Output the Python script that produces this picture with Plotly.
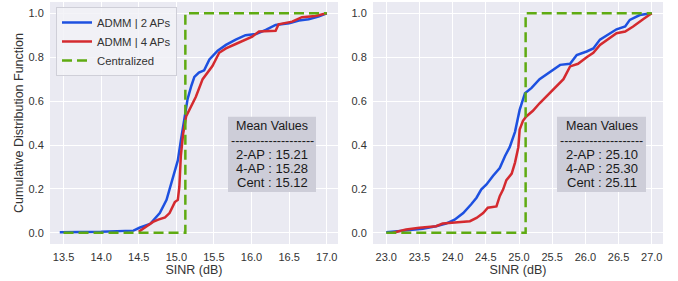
import plotly.graph_objects as go

# ---------------- data ----------------
# Left panel (SINR ~15 dB)
l_admm2_x = [13.45, 14.0, 14.43, 14.51, 14.65, 14.78, 14.87, 14.95, 15.02, 15.06, 15.11, 15.15, 15.20,
             15.24, 15.30, 15.37, 15.44, 15.55, 15.66, 15.79, 15.92, 16.06, 16.19, 16.32, 16.50,
             16.63, 16.76, 16.89, 17.0]
l_admm2_y = [0.003, 0.005, 0.01, 0.023, 0.04, 0.09, 0.15, 0.24, 0.33, 0.42, 0.52, 0.61, 0.67,
             0.71, 0.73, 0.74, 0.79, 0.83, 0.856, 0.88, 0.90, 0.906, 0.924, 0.947, 0.955,
             0.967, 0.973, 0.985, 1.0]
l_admm4_x = [14.50, 14.60, 14.69, 14.76, 14.85, 14.91, 14.98, 15.02, 15.04, 15.06, 15.09, 15.13,
             15.20, 15.26, 15.35, 15.42, 15.48, 15.57, 15.66, 15.79, 15.92, 16.01, 16.10, 16.32,
             16.36, 16.54, 16.67, 16.85, 17.0]
l_admm4_y = [0.005, 0.03, 0.05, 0.06, 0.07, 0.09, 0.14, 0.15, 0.21, 0.35, 0.45, 0.53,
             0.58, 0.62, 0.70, 0.735, 0.76, 0.82, 0.84, 0.86, 0.88, 0.894, 0.917, 0.92,
             0.95, 0.962, 0.982, 0.988, 1.0]
l_cent_x = [13.5, 15.12, 15.12, 17.0]
l_cent_y = [0.0, 0.0, 1.0, 1.0]

# Right panel (SINR ~25 dB)
r_admm2_x = [23.0, 23.3, 23.55, 23.75, 23.9, 24.03, 24.16, 24.28, 24.36, 24.43, 24.51, 24.61, 24.71,
             24.79, 24.86, 24.94, 25.01, 25.09, 25.19, 25.31, 25.47, 25.62, 25.77, 25.87, 26.02,
             26.12, 26.22, 26.37, 26.47, 26.60, 26.67, 26.82, 27.0]
r_admm2_y = [0.003, 0.012, 0.018, 0.03, 0.042, 0.06, 0.09, 0.13, 0.16, 0.197, 0.22, 0.26, 0.295,
             0.35, 0.39, 0.46, 0.56, 0.636, 0.66, 0.70, 0.735, 0.765, 0.77, 0.81, 0.826,
             0.84, 0.88, 0.91, 0.927, 0.94, 0.97, 0.992, 1.0]
r_admm4_x = [23.1, 23.3, 23.5, 23.75, 23.85, 23.96, 24.26, 24.36, 24.46, 24.53, 24.66, 24.71, 24.76,
             24.81, 24.89, 24.94, 24.99, 25.01, 25.06, 25.11, 25.21, 25.31, 25.44, 25.57, 25.67,
             25.77, 25.89, 26.02, 26.12, 26.22, 26.37, 26.47, 26.60, 26.72, 26.87, 27.0]
r_admm4_y = [0.0, 0.015, 0.023, 0.03, 0.042, 0.045, 0.053, 0.068, 0.09, 0.114, 0.12, 0.167, 0.197,
             0.24, 0.27, 0.32, 0.39, 0.47, 0.51, 0.53, 0.556, 0.59, 0.63, 0.667, 0.70,
             0.758, 0.77, 0.80, 0.82, 0.856, 0.886, 0.909, 0.917, 0.94, 0.973, 1.0]
r_cent_x = [23.0, 25.1, 25.1, 27.0]
r_cent_y = [0.0, 0.0, 1.0, 1.0]

series_names = ["ADMM | 2 APs", "ADMM | 4 APs", "Centralized"]
left_means = ["2-AP : 15.21", "4-AP : 15.28", "Cent : 15.12"]
right_means = ["2-AP : 25.10", "4-AP : 25.30", "Cent : 25.11"]
x_ticks_left = [13.5, 14.0, 14.5, 15.0, 15.5, 16.0, 16.5, 17.0]
x_ticks_right = [23.0, 23.5, 24.0, 24.5, 25.0, 25.5, 26.0, 26.5, 27.0]
y_ticks = [0.0, 0.2, 0.4, 0.6, 0.8, 1.0]

# ---------------- styling ----------------
W, H = 678, 281
# plot areas in screen pixels: left 50..338, right 373..663, vertical 2..244.5
ML, MR, MT, MB = 50, 678 - 663, 2, 281 - 244.5
PW, PH = W - ML - MR, H - MT - MB
BLUE, RED, GREEN = "#1d50e0", "#d42a2f", "#5fab12"
BG = "#eaeaf2"
TXT = "#333333"
FONT = "Liberation Sans, Arial, sans-serif"


def px_x(p):
    return (p - ML) / PW


def px_y(p):
    return 1 - (p - MT) / PH


fig = go.Figure()
for (xs, ys, name, color, dash, xa, ya, show) in [
    (l_admm2_x, l_admm2_y, series_names[0], BLUE, "solid", "x", "y", True),
    (l_admm4_x, l_admm4_y, series_names[1], RED, "solid", "x", "y", True),
    (l_cent_x, l_cent_y, series_names[2], GREEN, "10px,5px", "x", "y", True),
    (r_admm2_x, r_admm2_y, series_names[0], BLUE, "solid", "x2", "y2", False),
    (r_admm4_x, r_admm4_y, series_names[1], RED, "solid", "x2", "y2", False),
    (r_cent_x, r_cent_y, series_names[2], GREEN, "10px,5px", "x2", "y2", False),
]:
    fig.add_trace(go.Scatter(x=xs, y=ys, name=name, mode="lines",
                             line=dict(color=color, width=2.5, dash=dash),
                             xaxis=xa, yaxis=ya, showlegend=show))

axis_common = dict(showgrid=True, gridcolor="white", gridwidth=1, zeroline=False,
                   showline=False, ticks="outside", ticklen=3, tickcolor="rgba(0,0,0,0)",
                   tickfont=dict(size=11, color=TXT, family=FONT), automargin=False,
                   ticklabeloverflow="allow")

# y: 1.0 at screen y=13.3, 0.0 at screen y=233.3
ppu = 220.0
y_hi = 1.0 + (13.3 - MT) / ppu
y_lo = 0.0 - (H - MB - 233.3) / ppu

fig.update_layout(
    width=W, height=H,
    margin=dict(l=ML, r=MR, t=MT, b=MB, autoexpand=False),
    paper_bgcolor="white", plot_bgcolor=BG,
    font=dict(family=FONT, color=TXT),
    xaxis=dict(domain=[0, 288 / PW], range=[13.32, 17.15], tickvals=x_ticks_left,
               ticktext=[f"{v:.1f}" for v in x_ticks_left],
               title=dict(text="SINR (dB)", font=dict(size=12.5, color=TXT), standoff=2),
               **axis_common),
    yaxis=dict(domain=[0, 1], range=[y_lo, y_hi], tickvals=y_ticks,
               ticktext=[f"{v:.1f}" for v in y_ticks],
               title=dict(text="Cumulative Distribution Function", font=dict(size=12.5, color=TXT), standoff=2),
               **axis_common),
    xaxis2=dict(domain=[323 / PW, 1], range=[22.8, 27.17], tickvals=x_ticks_right,
                ticktext=[f"{v:.1f}" for v in x_ticks_right], anchor="y2",
                title=dict(text="SINR (dB)", font=dict(size=12.5, color=TXT), standoff=2),
                **axis_common),
    yaxis2=dict(domain=[0, 1], range=[y_lo, y_hi], tickvals=y_ticks, anchor="x2",
                ticktext=[f"{v:.1f}" for v in y_ticks], **axis_common),
    legend=dict(x=px_x(56), y=px_y(7), xanchor="left", yanchor="top",
                bgcolor="rgba(242,242,247,0.85)", bordercolor="#cfcfd8", borderwidth=1,
                font=dict(size=11.3, color=TXT, family=FONT), tracegroupgap=0),
    showlegend=True,
)

# Mean-value boxes
for (x0, x1, lines) in [(228, 316, left_means), (557, 646, right_means)]:
    fig.add_shape(type="rect", xref="paper", yref="paper",
                  x0=px_x(x0), x1=px_x(x1), y0=px_y(192.5), y1=px_y(117),
                  fillcolor="#cdcdd8", line=dict(width=0), layer="above")
    xc = px_x((x0 + x1) / 2)
    texts = ["Mean Values", "-" * 20] + lines
    sizes = [12.5, 12.5, 13, 13, 13]
    ys_px = [126.5, 141, 155.3, 169.3, 183.2]
    for t, yp, s in zip(texts, ys_px, sizes):
        fig.add_annotation(text=t, xref="paper", yref="paper", x=xc, y=px_y(yp),
                           xanchor="center", yanchor="middle", showarrow=False,
                           font=dict(size=s, color="#1a1a1a", family=FONT))

fig.write_html("out.html",
               config={"displayModeBar": False},
               post_script="document.body.style.margin='0';document.body.style.padding='0';"
                           "document.body.style.overflow='hidden';")
